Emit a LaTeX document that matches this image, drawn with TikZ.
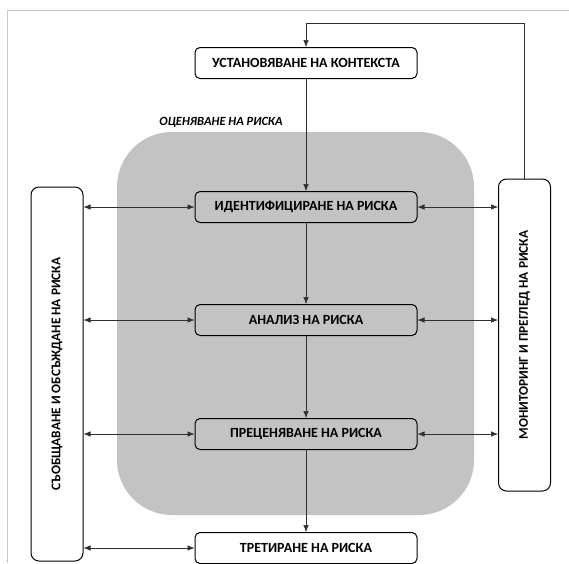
\documentclass[tikz,border=0pt]{standalone}
\usepackage{fontspec}
\setmainfont{Carlito}
\usepackage{tikz}
\usetikzlibrary{positioning,arrows.meta,backgrounds}

\definecolor{assessgray}{HTML}{C3C3C3}
\definecolor{framegray}{HTML}{C8C8C8}
\definecolor{linegray}{HTML}{303030}

\begin{document}
\begin{tikzpicture}[
  x=1pt, y=1pt,
  font=\fontsize{14}{16}\selectfont\bfseries,
  box/.style={draw,line width=1pt,rounded corners=5pt,align=center,
              minimum width=222pt,minimum height=31pt,inner sep=2pt},
  side/.style={draw,line width=1pt,rounded corners=8pt,rotate=90,
               minimum height=52pt,inner sep=2pt,
               font=\fontsize{13.3}{15}\selectfont\bfseries},
  zone/.style={fill=assessgray,rounded corners=55pt,minimum width=357pt,
               minimum height=383pt,inner sep=0pt},
  ar/.style={-{Latex[length=7pt,width=5.5pt]},linegray,line width=0.6pt},
  dar/.style={{Latex[length=7pt,width=5.5pt]}-{Latex[length=7pt,width=5.5pt]},
              linegray,line width=0.6pt}
]
\useasboundingbox (0,0) rectangle (569,-563);
%% ---- page frame ---------------------------------------------------------
\draw[framegray,line width=0.8pt] (569,-10) -- (7,-10) -- (7,-563);

%% ---- assessment zone ----------------------------------------------------
\node[zone] (zone) at (295.5,-323.5) {};
\node[font=\fontsize{12.5}{14}\selectfont\bfseries\itshape] (zlbl) at (221,-122)
  {ОЦЕНЯВАНЕ НА РИСКА};

%% ---- main column --------------------------------------------------------
\node[box]                      (ctx)   at (306,-63) {УСТАНОВЯВАНЕ НА КОНТЕКСТА};
\node[box, below=112pt of ctx]  (ident) {ИДЕНТИФИЦИРАНЕ НА РИСКА};
\node[box, below=81pt of ident] (anal)  {АНАЛИЗ НА РИСКА};
\node[box, below=82pt of anal]  (eval)  {ПРЕЦЕНЯВАНЕ НА РИСКА};
\node[box, below=82pt of eval]  (treat) {ТРЕТИРАНЕ НА РИСКА};
\foreach \a/\b in {ctx/ident, ident/anal, anal/eval, eval/treat} \draw[ar] (\a) -- (\b);

%% ---- side boxes ---------------------------------------------------------
\node[side, minimum width=374pt] (comm) at (57,-374)  {СЪОБЩАВАНЕ И ОБСЪЖДАНЕ НА РИСКА};
\node[side, minimum width=312pt] (mon)  at (524.5,-335) {МОНИТОРИНГ И ПРЕГЛЕД НА РИСКА};

\foreach \n in {ident, anal, eval, treat} \draw[dar] (comm.south |- \n.west) -- (\n.west);
\foreach \n in {ident, anal, eval} \draw[dar] (\n.east) -- (\n.east -| mon.north);

%% feedback from monitoring back to the context
\draw[ar] (mon.east) -- ++(0,155pt) -| (ctx.north);
\end{tikzpicture}
\end{document}
